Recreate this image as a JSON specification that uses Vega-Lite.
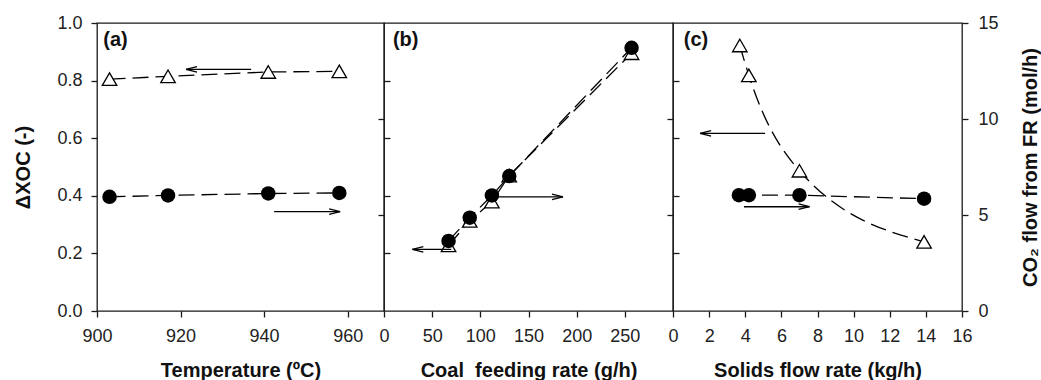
{
  "$schema": "https://vega.github.io/schema/vega-lite/v6.json",
  "padding": {"left": 13, "top": 13, "right": 0, "bottom": 0},
  "spacing": 0,
  "bounds": "flush",
  "datasets": {
    "triA": [{"x": 903, "v": 0.805}, {"x": 917, "v": 0.815}, {"x": 941, "v": 0.83}, {"x": 958, "v": 0.832}],
    "cirA": [{"x": 903, "c": 5.95}, {"x": 917, "c": 6.02}, {"x": 941, "c": 6.12}, {"x": 958, "c": 6.15}],
    "arrA": [{"x": 936.9, "x2": 921.3, "v": 0.839}, {"x": 942.4, "x2": 958.2, "v": 0.345}],
    "hdA": [{"x": 921.3, "v": 0.839, "dir": "l"}, {"x": 958.2, "v": 0.345, "dir": "r"}],
    "labA": [{"x": 901.5, "v": 0.94, "t": "(a)"}],
    "triB": [{"x": 67, "v": 0.228}, {"x": 89, "v": 0.313}, {"x": 112, "v": 0.38}, {"x": 130, "v": 0.47}, {"x": 257, "v": 0.895}],
    "cirB": [{"x": 67, "c": 3.65}, {"x": 89, "c": 4.86}, {"x": 112, "c": 6.02}, {"x": 130, "c": 7.03}, {"x": 257, "c": 13.71}],
    "arrB": [{"x": 69.9, "x2": 29.4, "v": 0.214}, {"x": 111.4, "x2": 185.8, "v": 0.396}],
    "hdB": [{"x": 29.4, "v": 0.214, "dir": "l"}, {"x": 185.8, "v": 0.396, "dir": "r"}],
    "labB": [{"x": 9.3, "v": 0.94, "t": "(b)"}],
    "triC": [{"x": 3.7, "v": 0.922}, {"x": 4.2, "v": 0.818}, {"x": 7.0, "v": 0.487}, {"x": 13.9, "v": 0.24}],
    "cirC": [{"x": 3.65, "c": 6.03}, {"x": 4.2, "c": 6.03}, {"x": 7.0, "c": 6.03}, {"x": 13.9, "c": 5.85}],
    "arrC": [{"x": 5.1, "x2": 1.5, "v": 0.617}, {"x": 3.93, "x2": 7.56, "v": 0.362}],
    "hdC": [{"x": 1.5, "v": 0.617, "dir": "l"}, {"x": 7.56, "v": 0.362, "dir": "r"}],
    "labC": [{"x": 0.6, "v": 0.94, "t": "(c)"}]
  },
  "hconcat": [
    {
      "width": 287, "height": 288,
      "layer": [
        {
          "encoding": {
            "x": {"field": "x", "type": "quantitative", "scale": {"domain": [900, 968.7], "nice": false, "zero": false}, "axis": {"values": [900, 920, 940, 960], "title": "Temperature (ºC)"}},
            "y": {"field": "v", "type": "quantitative", "scale": {"domain": [0, 1], "nice": false}, "axis": {"orient": "left", "values": [0, 0.2, 0.4, 0.6, 0.8, 1], "format": ".1f", "title": "ΔXOC (-)", "tickSize": 6, "labelPadding": 9, "titlePadding": 23}}
          },
          "layer": [
            {"data": {"name": "triA"}, "mark": {"type": "line", "color": "black", "strokeWidth": 1.3, "strokeDash": [16, 7]}},
            {"data": {"name": "triA"}, "mark": {"type": "point", "shape": "triangle-up", "filled": true, "fill": "white", "stroke": "black", "strokeWidth": 1.3, "size": 210, "opacity": 1}},
            {"data": {"name": "arrA"}, "mark": {"type": "rule", "color": "black", "strokeWidth": 1.3}, "encoding": {"x2": {"field": "x2"}}},
            {"data": {"name": "hdA"}, "mark": {"type": "point", "filled": false, "stroke": "black", "strokeWidth": 1.3, "size": 484, "opacity": 1},
             "encoding": {"shape": {"field": "dir", "type": "nominal", "scale": {"domain": ["l", "r"], "range": ["M0,0L1,-0.25M0,0L1,0.25", "M0,0L-1,-0.25M0,0L-1,0.25"]}, "legend": null}}},
            {"data": {"name": "labA"}, "mark": {"type": "text", "align": "left", "baseline": "middle", "font": "Liberation Sans", "fontSize": 20, "fontWeight": "bold", "color": "#111"}, "encoding": {"text": {"field": "t"}}}
          ]
        },
        {
          "data": {"name": "cirA"},
          "encoding": {
            "x": {"field": "x", "type": "quantitative", "scale": {"domain": [900, 968.7], "nice": false, "zero": false}, "axis": {"values": [900, 920, 940, 960], "title": "Temperature (ºC)"}},
            "y": {"field": "c", "type": "quantitative", "scale": {"domain": [0, 15], "nice": false}, "axis": {"orient": "right", "values": [5, 10], "labels": false, "title": null, "tickSize": -6}}
          },
          "layer": [
            {"mark": {"type": "line", "color": "black", "strokeWidth": 1.3, "strokeDash": [16, 7]}},
            {"mark": {"type": "circle", "color": "black", "size": 210, "opacity": 1}}
          ]
        }
      ],
      "resolve": {"scale": {"y": "independent"}}
    },
    {
      "width": 289, "height": 288,
      "layer": [
        {
          "encoding": {
            "x": {"field": "x", "type": "quantitative", "scale": {"domain": [0, 300], "nice": false}, "axis": {"values": [0, 50, 100, 150, 200, 250], "title": "Coal\u00a0 feeding rate (g/h)"}},
            "y": {"field": "v", "type": "quantitative", "scale": {"domain": [0, 1], "nice": false}, "axis": {"orient": "left", "values": [0.2, 0.4, 0.6, 0.8], "labels": false, "title": null, "tickSize": -6}}
          },
          "layer": [
            {"data": {"name": "triB"}, "mark": {"type": "line", "color": "black", "strokeWidth": 1.3, "strokeDash": [16, 7]}},
            {"data": {"name": "triB"}, "mark": {"type": "point", "shape": "triangle-up", "filled": true, "fill": "white", "stroke": "black", "strokeWidth": 1.3, "size": 210, "opacity": 1}},
            {"data": {"name": "arrB"}, "mark": {"type": "rule", "color": "black", "strokeWidth": 1.3}, "encoding": {"x2": {"field": "x2"}}},
            {"data": {"name": "hdB"}, "mark": {"type": "point", "filled": false, "stroke": "black", "strokeWidth": 1.3, "size": 484, "opacity": 1},
             "encoding": {"shape": {"field": "dir", "type": "nominal", "scale": {"domain": ["l", "r"], "range": ["M0,0L1,-0.25M0,0L1,0.25", "M0,0L-1,-0.25M0,0L-1,0.25"]}, "legend": null}}},
            {"data": {"name": "labB"}, "mark": {"type": "text", "align": "left", "baseline": "middle", "font": "Liberation Sans", "fontSize": 20, "fontWeight": "bold", "color": "#111"}, "encoding": {"text": {"field": "t"}}}
          ]
        },
        {
          "data": {"name": "cirB"},
          "encoding": {
            "x": {"field": "x", "type": "quantitative", "scale": {"domain": [0, 300], "nice": false}, "axis": {"values": [0, 50, 100, 150, 200, 250], "title": "Coal\u00a0 feeding rate (g/h)"}},
            "y": {"field": "c", "type": "quantitative", "scale": {"domain": [0, 15], "nice": false}, "axis": {"orient": "right", "values": [5, 10], "labels": false, "title": null, "tickSize": -6}}
          },
          "layer": [
            {"mark": {"type": "line", "color": "black", "strokeWidth": 1.3, "strokeDash": [16, 7]}},
            {"mark": {"type": "circle", "color": "black", "size": 210, "opacity": 1}}
          ]
        }
      ],
      "resolve": {"scale": {"y": "independent"}}
    },
    {
      "width": 289, "height": 288,
      "layer": [
        {
          "encoding": {
            "x": {"field": "x", "type": "quantitative", "scale": {"domain": [0, 16], "nice": false}, "axis": {"values": [0, 2, 4, 6, 8, 10, 12, 14, 16], "title": "Solids flow rate (kg/h)"}},
            "y": {"field": "v", "type": "quantitative", "scale": {"domain": [0, 1], "nice": false}, "axis": {"orient": "left", "values": [0.2, 0.4, 0.6, 0.8], "labels": false, "title": null, "tickSize": -6}}
          },
          "layer": [
            {"data": {"name": "triC"}, "mark": {"type": "line", "color": "black", "strokeWidth": 1.3, "strokeDash": [16, 7], "interpolate": "monotone"}},
            {"data": {"name": "triC"}, "mark": {"type": "point", "shape": "triangle-up", "filled": true, "fill": "white", "stroke": "black", "strokeWidth": 1.3, "size": 210, "opacity": 1}},
            {"data": {"name": "arrC"}, "mark": {"type": "rule", "color": "black", "strokeWidth": 1.3}, "encoding": {"x2": {"field": "x2"}}},
            {"data": {"name": "hdC"}, "mark": {"type": "point", "filled": false, "stroke": "black", "strokeWidth": 1.3, "size": 484, "opacity": 1},
             "encoding": {"shape": {"field": "dir", "type": "nominal", "scale": {"domain": ["l", "r"], "range": ["M0,0L1,-0.25M0,0L1,0.25", "M0,0L-1,-0.25M0,0L-1,0.25"]}, "legend": null}}},
            {"data": {"name": "labC"}, "mark": {"type": "text", "align": "left", "baseline": "middle", "font": "Liberation Sans", "fontSize": 20, "fontWeight": "bold", "color": "#111"}, "encoding": {"text": {"field": "t"}}}
          ]
        },
        {
          "data": {"name": "cirC"},
          "encoding": {
            "x": {"field": "x", "type": "quantitative", "scale": {"domain": [0, 16], "nice": false}, "axis": {"values": [0, 2, 4, 6, 8, 10, 12, 14, 16], "title": "Solids flow rate (kg/h)"}},
            "y": {"field": "c", "type": "quantitative", "scale": {"domain": [0, 15], "nice": false}, "axis": {"orient": "right", "values": [0, 5, 10, 15], "title": "CO₂ flow from FR (mol/h)", "tickSize": 6, "labelPadding": 10, "titleAngle": 270, "titleBaseline": "top", "titlePadding": 22}}
          },
          "layer": [
            {"mark": {"type": "line", "color": "black", "strokeWidth": 1.3, "strokeDash": [16, 7]}},
            {"mark": {"type": "circle", "color": "black", "size": 210, "opacity": 1}}
          ]
        }
      ],
      "resolve": {"scale": {"y": "independent"}}
    }
  ],
  "config": {
    "font": "Liberation Sans",
    "view": {"stroke": "#1a1a1a", "strokeWidth": 1.3},
    "axis": {
      "grid": false, "domain": false, "labelFlush": false, "labelOverlap": false,
      "labelFont": "Liberation Sans", "labelFontSize": 18, "labelColor": "#222",
      "tickColor": "#1a1a1a", "tickWidth": 1.3,
      "titleFont": "Liberation Sans", "titleFontSize": 20, "titleFontWeight": "bold", "titleColor": "#111"
    },
    "axisX": {"tickSize": 6, "labelPadding": 10, "titlePadding": 15}
  }
}
